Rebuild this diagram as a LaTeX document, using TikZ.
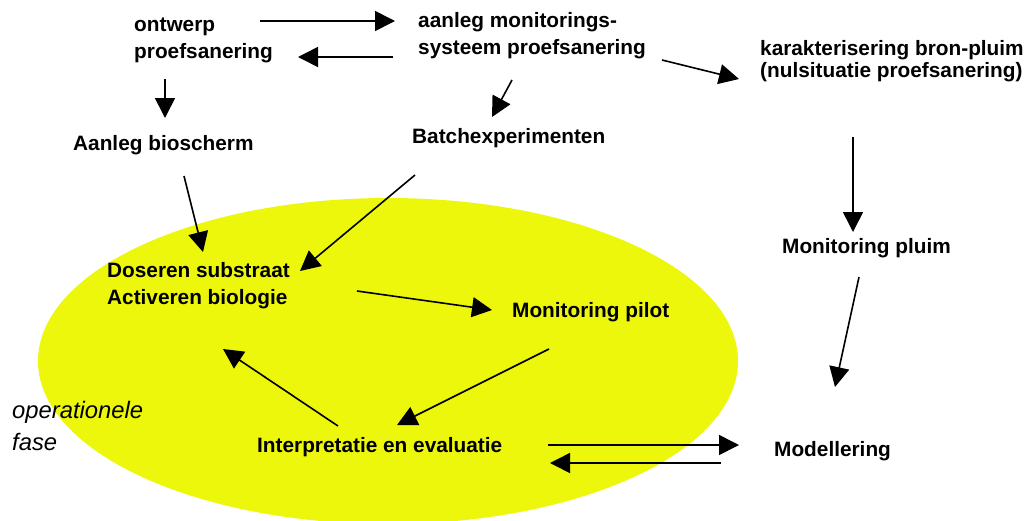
\documentclass[tikz,border=0pt]{standalone}
\usepackage{fontspec}
\setmainfont{Liberation Sans}
\usetikzlibrary{arrows.meta}
\usetikzlibrary{calc}

\definecolor{fasegeel}{RGB}{237,247,12}

\begin{document}
\begin{tikzpicture}[x=1pt, y=-1pt,
    stap/.style={inner sep=0pt, anchor=base west, align=left,
      font=\fontsize{20.8}{27}\selectfont\bfseries},
    pijl/.style={-{Triangle[length=20pt, width=20pt]}, line width=1.6pt}]
            \useasboundingbox (0,0) rectangle (1027,520);
            % Fase
            \fill[fasegeel] (388,361) ellipse [x radius=350, y radius=163];
            \node[inner sep=0pt, anchor=base west, align=left,
              font=\fontsize{23.8}{32}\selectfont\itshape] (fase) at (12,450) {operationele\\fase};

            % Stappen
            \node[stap] (ontwerp) at (134,58) {ontwerp\\proefsanering};
            \node[stap] (aanleg) at (418,54) {aanleg monitorings-\\systeem proefsanering};
            \node[stap, font=\fontsize{20.8}{22}\selectfont\bfseries] (karak) at (760,77) {karakterisering bron-pluim\\(nulsituatie proefsanering)};
            \node[stap] (bios) at (73,150) {Aanleg bioscherm};
            \node[stap] (batch) at (412,143) {Batchexperimenten};
            \node[stap] (doseren) at (107,304) {Doseren substraat\\Activeren biologie};
            \node[stap] (pilot) at (512,317) {Monitoring pilot};
            \node[stap] (interp) at (257,452) {Interpretatie en evaluatie};
            \node[stap] (pluim) at (782,253) {Monitoring pluim};
            \node[stap] (model) at (774,456) {Modellering};

            % Pijlen
            \draw[pijl] ($(ontwerp.base west)+(126,-37)$) -- ($(aanleg.base west)+(-23,-33)$);
            \draw[pijl] ($(aanleg.base west)+(-25,3)$) -- ($(ontwerp.base west)+(164,-1)$);
            \draw[pijl] ($(ontwerp.base west)+(31,21)$) -- ($(bios.base west)+(92,-32)$);
            \draw[pijl] ($(aanleg.base west)+(94,26)$) -- ($(batch.base west)+(80,-26)$);
            \draw[pijl] ($(aanleg.base west)+(244,6)$) -- ($(karak.base west)+(-21,2)$);
            \draw[pijl] ($(karak.base west)+(93,60)$) -- ($(pluim.base west)+(71,-21)$);
            \draw[pijl] ($(bios.base west)+(111,26)$) -- ($(doseren.base west)+(96,-52)$);
            \draw[pijl] ($(batch.base west)+(3,32)$) -- ($(doseren.base west)+(193,-33)$);
            \draw[pijl] ($(doseren.base west)+(250,-13)$) -- ($(pilot.base west)+(-20,-7)$);
            \draw[pijl] ($(pilot.base west)+(37,32)$) -- ($(interp.base west)+(140,-27)$);
            \draw[pijl] ($(interp.base west)+(81,-26)$) -- ($(doseren.base west)+(116,45)$);
            \draw[pijl] ($(pluim.base west)+(77,24)$) -- ($(model.base west)+(61,-69)$);
            \draw[pijl] ($(interp.base west)+(291,-7)$) -- ($(model.base west)+(-35,-11)$);
            \draw[pijl] ($(model.base west)+(-53,7)$) -- ($(interp.base west)+(293,11)$);
\end{tikzpicture}
\end{document}
